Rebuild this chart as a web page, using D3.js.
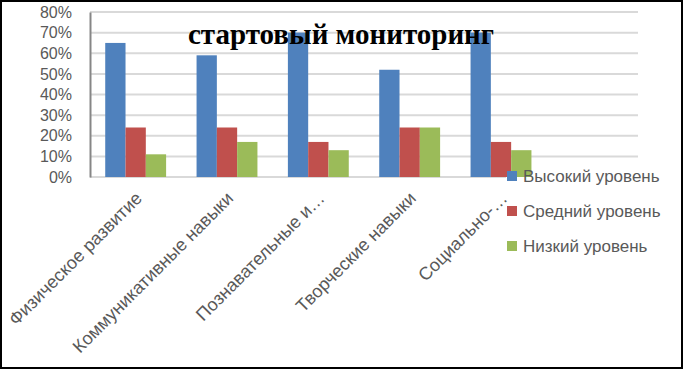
<!DOCTYPE html>
<html>
<head>
<meta charset="utf-8">
<script src="https://cdn.jsdelivr.net/npm/d3@7"></script>
<style>
  html, body { margin: 0; padding: 0; background: #fff; }
  svg { display: block; }
</style>
</head>
<body>
<svg width="683" height="369"></svg>
<script>
const categories = ["Физическое развитие", "Коммуникативные навыки", "Познавательные и…", "Творческие навыки", "Социально-…", ""];
const seriesNames = ["Высокий уровень", "Средний уровень", "Низкий уровень"];
const high = [65, 59, 70, 52, 70];
const mid = [24, 24, 17, 24, 17];
const low = [11, 17, 13, 24, 13];
const yTicks = [0, 10, 20, 30, 40, 50, 60, 70, 80];
const title = "стартовый мониторинг";

const colors = ["#4f81bd", "#c0504d", "#9bbb59"];
const series = [high, mid, low];

const svg = d3.select("svg");
const plot = { left: 90, right: 638, top: 12, bottom: 177 };

const x0 = d3.scaleBand().domain(d3.range(categories.length)).range([plot.left, plot.right]);
const bw = x0.bandwidth();
const x1 = d3.scaleBand().domain(d3.range(seriesNames.length)).range([bw * 0.1667, bw * 0.8333]);
const y = d3.scaleLinear().domain([0, 80]).range([plot.bottom, plot.top]);

// frame
svg.append("rect")
    .attr("x", 1).attr("y", 1).attr("width", 681).attr("height", 367)
    .attr("fill", "#fff").attr("stroke", "#000").attr("stroke-width", 2);

// gridlines
svg.append("g").selectAll("line").data(yTicks).enter().append("line")
    .attr("x1", plot.left).attr("x2", plot.right)
    .attr("y1", (d) => y(d)).attr("y2", (d) => y(d))
    .attr("stroke", "#d9d9d9").attr("stroke-width", 2);

// y axis
const yAxis = svg.append("g")
    .attr("transform", `translate(${plot.left},0)`)
    .call(d3.axisLeft(y).tickValues(yTicks).tickFormat((d) => d + "%").tickSize(0).tickPadding(18));
yAxis.select(".domain").attr("stroke", "#868686").attr("stroke-width", 2);
yAxis.selectAll("text")
    .attr("font-family", "Liberation Sans, Arial, sans-serif")
    .attr("font-size", 16).attr("fill", "#595959");

// legend background (hides baseline under the legend)
svg.append("rect")
    .attr("x", 506).attr("y", 166).attr("width", 165).attr("height", 95)
    .attr("fill", "#fff");

// bars
const groups = svg.append("g").selectAll("g").data(high).enter().append("g")
    .attr("transform", (d, i) => `translate(${x0(i)},0)`);
groups.selectAll("rect")
    .data((d, i) => series.map((s, k) => ({ k: k, v: s[i] })))
    .enter().append("rect")
    .attr("x", (d) => x1(d.k))
    .attr("width", x1.bandwidth())
    .attr("y", (d) => y(d.v))
    .attr("height", (d) => y(0) - y(d.v))
    .attr("fill", (d) => colors[d.k]);

// x labels
svg.append("g").selectAll("text").data(categories).enter().append("text")
    .attr("transform", (d, i) => `translate(${x0(i) + bw / 2 + 3},195) rotate(-45)`)
    .attr("text-anchor", "end")
    .attr("dy", "0.35em")
    .attr("font-family", "Liberation Sans, Arial, sans-serif")
    .attr("font-size", 18).attr("fill", "#595959")
    .text((d) => d);

// legend
const legend = svg.append("g").selectAll("g").data(seriesNames).enter().append("g")
    .attr("transform", (d, i) => `translate(507,${176 + i * 35})`);
legend.append("rect")
    .attr("x", 0).attr("y", -5).attr("width", 10).attr("height", 10)
    .attr("fill", (d, i) => colors[i]);
legend.append("text")
    .attr("x", 16).attr("dy", "0.35em")
    .attr("font-family", "Liberation Sans, Arial, sans-serif")
    .attr("font-size", 17).attr("fill", "#595959")
    .text((d) => d);

// title
svg.append("text")
    .attr("x", 341).attr("y", 44)
    .attr("text-anchor", "middle")
    .attr("font-family", "Liberation Serif, Times New Roman, serif")
    .attr("font-weight", "bold")
    .attr("font-size", 29)
    .text(title);
</script>
</body>
</html>
